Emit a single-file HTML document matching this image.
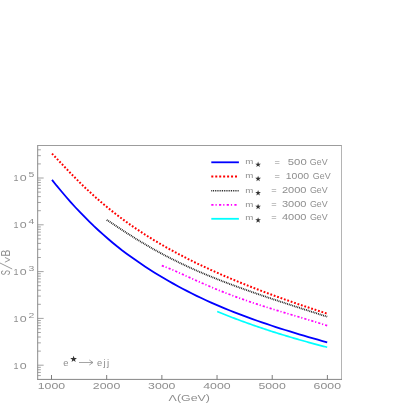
<!DOCTYPE html>
<html><head><meta charset="utf-8"><style>
html,body{margin:0;padding:0;background:#fff;}
svg{display:block;font-family:"Liberation Sans",sans-serif;will-change:transform;}
</style></head><body>
<svg width="409" height="409" viewBox="0 0 409 409">
<rect width="409" height="409" fill="#fff"/>
<path d="M37.15,145.5H342.0" stroke="#9c9c9c" stroke-width="1.1" fill="none"/>
<path d="M37.65,145.5V379.4" stroke="#969696" stroke-width="1.1" fill="none"/>
<path d="M341.5,145.5V379.4" stroke="#b4b4b4" stroke-width="1" fill="none"/>
<path d="M37.15,379.4H342.0" stroke="#868686" stroke-width="1" fill="none"/>
<path d="M51.50,379.4v-4.4 M106.68,379.4v-4.4 M161.86,379.4v-4.4 M217.04,379.4v-4.4 M272.22,379.4v-4.4 M327.40,379.4v-4.4" stroke="#6e6e6e" stroke-width="0.9" fill="none"/>
<path d="M37.65,375.58h3.2 M37.65,372.45h3.2 M37.65,369.74h3.2 M37.65,367.34h3.2 M37.65,365.20h6 M37.65,351.11h3.2 M37.65,342.87h3.2 M37.65,337.02h3.2 M37.65,332.49h3.2 M37.65,328.78h3.2 M37.65,325.65h3.2 M37.65,322.94h3.2 M37.65,320.54h3.2 M37.65,318.40h6 M37.65,304.31h3.2 M37.65,296.07h3.2 M37.65,290.22h3.2 M37.65,285.69h3.2 M37.65,281.98h3.2 M37.65,278.85h3.2 M37.65,276.14h3.2 M37.65,273.74h3.2 M37.65,271.60h6 M37.65,257.51h3.2 M37.65,249.27h3.2 M37.65,243.42h3.2 M37.65,238.89h3.2 M37.65,235.18h3.2 M37.65,232.05h3.2 M37.65,229.34h3.2 M37.65,226.94h3.2 M37.65,224.80h6 M37.65,210.71h3.2 M37.65,202.47h3.2 M37.65,196.62h3.2 M37.65,192.09h3.2 M37.65,188.38h3.2 M37.65,185.25h3.2 M37.65,182.54h3.2 M37.65,180.14h3.2 M37.65,178.00h6 M37.65,163.91h3.2 M37.65,155.67h3.2 M37.65,149.82h3.2" stroke="#8c8c8c" stroke-width="0.8" fill="none"/>
<text y="368.50" font-size="9" fill="#8e8e8e"><tspan x="13.4">1</tspan><tspan x="19.7" textLength="6.9" lengthAdjust="spacingAndGlyphs">0</tspan></text>
<text y="321.70" font-size="9" fill="#8e8e8e"><tspan x="13.4">1</tspan><tspan x="19.7" textLength="6.9" lengthAdjust="spacingAndGlyphs">0</tspan></text>
<text x="28.5" y="317.60" font-size="7.3" textLength="5.8" lengthAdjust="spacingAndGlyphs" fill="#8e8e8e">2</text>
<text y="274.90" font-size="9" fill="#8e8e8e"><tspan x="13.4">1</tspan><tspan x="19.7" textLength="6.9" lengthAdjust="spacingAndGlyphs">0</tspan></text>
<text x="28.5" y="270.80" font-size="7.3" textLength="5.8" lengthAdjust="spacingAndGlyphs" fill="#8e8e8e">3</text>
<text y="228.10" font-size="9" fill="#8e8e8e"><tspan x="13.4">1</tspan><tspan x="19.7" textLength="6.9" lengthAdjust="spacingAndGlyphs">0</tspan></text>
<text x="28.5" y="224.00" font-size="7.3" textLength="5.8" lengthAdjust="spacingAndGlyphs" fill="#8e8e8e">4</text>
<text y="181.30" font-size="9" fill="#8e8e8e"><tspan x="13.4">1</tspan><tspan x="19.7" textLength="6.9" lengthAdjust="spacingAndGlyphs">0</tspan></text>
<text x="28.5" y="177.20" font-size="7.3" textLength="5.8" lengthAdjust="spacingAndGlyphs" fill="#8e8e8e">5</text>
<text x="37.70" y="388.7" font-size="8.8" textLength="27.4" lengthAdjust="spacingAndGlyphs" fill="#8e8e8e">1000</text>
<text x="92.88" y="388.7" font-size="8.8" textLength="27.4" lengthAdjust="spacingAndGlyphs" fill="#8e8e8e">2000</text>
<text x="148.06" y="388.7" font-size="8.8" textLength="27.4" lengthAdjust="spacingAndGlyphs" fill="#8e8e8e">3000</text>
<text x="203.24" y="388.7" font-size="8.8" textLength="27.4" lengthAdjust="spacingAndGlyphs" fill="#8e8e8e">4000</text>
<text x="258.42" y="388.7" font-size="8.8" textLength="27.4" lengthAdjust="spacingAndGlyphs" fill="#8e8e8e">5000</text>
<text x="313.60" y="388.7" font-size="8.8" textLength="27.4" lengthAdjust="spacingAndGlyphs" fill="#8e8e8e">6000</text>
<text x="168.6" y="401.3" font-size="9.8" textLength="41.4" lengthAdjust="spacingAndGlyphs" fill="#8e8e8e">Λ(GeV)</text>
<g transform="translate(9.8,275.3) rotate(-90)"><text x="0" y="0" font-size="12.3" textLength="5.2" lengthAdjust="spacingAndGlyphs" fill="#8e8e8e">S</text></g>
<g transform="translate(9.8,256.5) rotate(-90)"><text x="0" y="0" font-size="12.3" textLength="6.9" lengthAdjust="spacingAndGlyphs" fill="#8e8e8e">B</text></g>
<path d="M12.2,269 L0,263 M4.9,262.2 L9.8,259.8 L4.9,257.4" stroke="#8e8e8e" stroke-width="0.9" fill="none"/>
<path d="M52.00,179.85 L56.66,185.69 L61.33,191.21 L65.99,196.75 L70.66,202.08 L75.32,207.23 L79.99,212.18 L84.65,216.99 L89.32,221.68 L93.98,226.21 L98.64,230.51 L103.31,234.69 L107.97,238.75 L112.64,242.71 L117.30,246.55 L121.97,250.21 L126.63,253.69 L131.29,257.06 L135.96,260.32 L140.62,263.49 L145.29,266.64 L149.95,269.69 L154.62,272.65 L159.28,275.52 L163.95,278.30 L168.61,280.99 L173.27,283.64 L177.94,286.23 L182.60,288.73 L187.27,291.17 L191.93,293.53 L196.60,295.82 L201.26,298.06 L205.93,300.23 L210.59,302.34 L215.25,304.39 L219.92,306.40 L224.58,308.35 L229.25,310.25 L233.91,312.10 L238.58,313.91 L243.24,315.68 L247.91,317.41 L252.57,319.10 L257.23,320.75 L261.90,322.37 L266.56,323.96 L271.23,325.51 L275.89,327.04 L280.56,328.54 L285.22,330.01 L289.88,331.46 L294.55,332.89 L299.21,334.29 L303.88,335.68 L308.54,337.04 L313.21,338.39 L317.87,339.72 L322.54,341.04 L327.20,342.34" stroke="#0000ff" stroke-width="1.8" fill="none"/>
<path d="M52.00,153.62 L56.66,158.49 L61.33,163.44 L65.99,168.37 L70.66,173.24 L75.32,178.01 L79.99,182.67 L84.65,187.21 L89.32,191.60 L93.98,195.86 L98.64,199.99 L103.31,203.98 L107.97,207.85 L112.64,211.60 L117.30,215.22 L121.97,218.73 L126.63,222.14 L131.29,225.44 L135.96,228.63 L140.62,231.74 L145.29,234.75 L149.95,237.68 L154.62,240.53 L159.28,243.30 L163.95,246.01 L168.61,248.64 L173.27,251.21 L177.94,253.72 L182.60,256.17 L187.27,258.57 L191.93,260.91 L196.60,263.20 L201.26,265.44 L205.93,267.63 L210.59,269.79 L215.25,271.90 L219.92,273.97 L224.58,276.00 L229.25,277.99 L233.91,279.95 L238.58,281.88 L243.24,283.77 L247.91,285.64 L252.57,287.47 L257.23,289.28 L261.90,291.06 L266.56,292.81 L271.23,294.54 L275.89,296.24 L280.56,297.92 L285.22,299.58 L289.88,301.22 L294.55,302.83 L299.21,304.43 L303.88,306.01 L308.54,307.57 L313.21,309.11 L317.87,310.64 L322.54,312.14 L327.20,313.64" stroke="#ff0000" stroke-width="2" stroke-dasharray="1.8 1.8" fill="none"/>
<path d="M106.70,219.90 L110.44,222.32 L114.17,224.77 L117.91,227.22 L121.65,229.66 L125.39,232.09 L129.12,234.49 L132.86,236.85 L136.60,239.18 L140.34,241.46 L144.07,243.70 L147.81,245.90 L151.55,248.05 L155.28,250.15 L159.02,252.21 L162.76,254.23 L166.50,256.20 L170.23,258.12 L173.97,260.01 L177.71,261.85 L181.45,263.65 L185.18,265.41 L188.92,267.14 L192.66,268.83 L196.39,270.48 L200.13,272.11 L203.87,273.70 L207.61,275.26 L211.34,276.79 L215.08,278.30 L218.82,279.78 L222.56,281.24 L226.29,282.67 L230.03,284.09 L233.77,285.48 L237.51,286.85 L241.24,288.21 L244.98,289.55 L248.72,290.87 L252.45,292.18 L256.19,293.48 L259.93,294.76 L263.67,296.04 L267.40,297.30 L271.14,298.55 L274.88,299.80 L278.62,301.03 L282.35,302.26 L286.09,303.49 L289.83,304.71 L293.56,305.92 L297.30,307.13 L301.04,308.33 L304.78,309.54 L308.51,310.74 L312.25,311.93 L315.99,313.13 L319.73,314.33 L323.46,315.52 L327.20,316.72" stroke="#1a1a1a" stroke-width="1.8" stroke-dasharray="0.9 0.9" fill="none"/>
<path d="M161.80,265.58 L164.60,266.62 L167.41,267.72 L170.21,268.87 L173.01,270.06 L175.82,271.28 L178.62,272.53 L181.42,273.79 L184.23,275.06 L187.03,276.33 L189.83,277.61 L192.64,278.88 L195.44,280.15 L198.24,281.41 L201.05,282.66 L203.85,283.90 L206.65,285.12 L209.46,286.33 L212.26,287.52 L215.06,288.69 L217.87,289.85 L220.67,290.99 L223.47,292.10 L226.28,293.20 L229.08,294.28 L231.88,295.35 L234.69,296.39 L237.49,297.42 L240.29,298.43 L243.10,299.42 L245.90,300.40 L248.71,301.37 L251.51,302.31 L254.31,303.25 L257.12,304.17 L259.92,305.08 L262.72,305.98 L265.53,306.87 L268.33,307.75 L271.13,308.62 L273.94,309.48 L276.74,310.34 L279.54,311.19 L282.35,312.03 L285.15,312.87 L287.95,313.71 L290.76,314.55 L293.56,315.38 L296.36,316.22 L299.17,317.05 L301.97,317.89 L304.77,318.73 L307.58,319.57 L310.38,320.41 L313.18,321.26 L315.99,322.12 L318.79,322.98 L321.59,323.85 L324.40,324.73 L327.20,325.61" stroke="#ff00ff" stroke-width="1.7" stroke-dasharray="2.2 1.85 1.2 2.0" fill="none"/>
<path d="M217.20,311.44 L219.06,312.21 L220.93,312.98 L222.79,313.74 L224.66,314.49 L226.52,315.24 L228.39,315.98 L230.25,316.71 L232.12,317.43 L233.98,318.15 L235.84,318.86 L237.71,319.57 L239.57,320.26 L241.44,320.95 L243.30,321.64 L245.17,322.32 L247.03,322.99 L248.89,323.66 L250.76,324.32 L252.62,324.97 L254.49,325.62 L256.35,326.27 L258.22,326.91 L260.08,327.54 L261.95,328.17 L263.81,328.79 L265.67,329.40 L267.54,330.02 L269.40,330.62 L271.27,331.22 L273.13,331.82 L275.00,332.41 L276.86,333.00 L278.73,333.58 L280.59,334.16 L282.45,334.73 L284.32,335.30 L286.18,335.87 L288.05,336.43 L289.91,336.98 L291.78,337.53 L293.64,338.08 L295.51,338.63 L297.37,339.16 L299.23,339.70 L301.10,340.23 L302.96,340.76 L304.83,341.28 L306.69,341.80 L308.56,342.32 L310.42,342.83 L312.28,343.34 L314.15,343.84 L316.01,344.34 L317.88,344.84 L319.74,345.33 L321.61,345.82 L323.47,346.31 L325.34,346.79 L327.20,347.27" stroke="#00ffff" stroke-width="1.7" fill="none"/>
<path d="M211.3,162.3H238.9" stroke="#0000ff" stroke-width="1.8" fill="none"/>
<text x="245.2" y="164.10" font-size="8" textLength="8.1" lengthAdjust="spacingAndGlyphs" fill="#8e8e8e">m</text>
<polygon points="258.10,161.60 258.81,163.63 260.95,163.67 259.24,164.97 259.86,167.03 258.10,165.80 256.34,167.03 256.96,164.97 255.25,163.67 257.39,163.63" fill="#333"/>
<text x="274.4" y="164.50" font-size="8.6" textLength="5.4" lengthAdjust="spacingAndGlyphs" fill="#8e8e8e">=</text>
<text x="287.8" y="164.50" font-size="8.6" textLength="18.9" lengthAdjust="spacingAndGlyphs" fill="#8e8e8e">500</text>
<text x="309.8" y="164.50" font-size="8.6" textLength="17.8" lengthAdjust="spacingAndGlyphs" fill="#8e8e8e">GeV</text>
<path d="M211.3,176.5H237.4" stroke="#ff0000" stroke-width="1.8" stroke-dasharray="2 1.95" fill="none"/>
<text x="245.2" y="178.30" font-size="8" textLength="8.1" lengthAdjust="spacingAndGlyphs" fill="#8e8e8e">m</text>
<polygon points="258.10,175.80 258.81,177.83 260.95,177.87 259.24,179.17 259.86,181.23 258.10,180.00 256.34,181.23 256.96,179.17 255.25,177.87 257.39,177.83" fill="#333"/>
<text x="274.4" y="178.70" font-size="8.6" textLength="5.4" lengthAdjust="spacingAndGlyphs" fill="#8e8e8e">=</text>
<text x="285.8" y="178.70" font-size="8.6" textLength="23.2" lengthAdjust="spacingAndGlyphs" fill="#8e8e8e">1000</text>
<text x="312.8" y="178.70" font-size="8.6" textLength="17.8" lengthAdjust="spacingAndGlyphs" fill="#8e8e8e">GeV</text>
<path d="M211.3,190.7H238.9" stroke="#1a1a1a" stroke-width="1.6" stroke-dasharray="0.9 0.9" fill="none"/>
<text x="245.2" y="192.50" font-size="8" textLength="8.1" lengthAdjust="spacingAndGlyphs" fill="#8e8e8e">m</text>
<polygon points="258.10,190.00 258.81,192.03 260.95,192.07 259.24,193.37 259.86,195.43 258.10,194.20 256.34,195.43 256.96,193.37 255.25,192.07 257.39,192.03" fill="#333"/>
<text x="271.3" y="192.90" font-size="8.6" textLength="5.4" lengthAdjust="spacingAndGlyphs" fill="#8e8e8e">=</text>
<text x="281.9" y="192.90" font-size="8.6" textLength="24.6" lengthAdjust="spacingAndGlyphs" fill="#8e8e8e">2000</text>
<text x="309.9" y="192.90" font-size="8.6" textLength="17.8" lengthAdjust="spacingAndGlyphs" fill="#8e8e8e">GeV</text>
<path d="M211.3,204.9H237.4" stroke="#ff00ff" stroke-width="1.7" stroke-dasharray="2.2 2 1.2 2.3" fill="none"/>
<text x="245.2" y="206.70" font-size="8" textLength="8.1" lengthAdjust="spacingAndGlyphs" fill="#8e8e8e">m</text>
<polygon points="258.10,203.70 258.81,205.73 260.95,205.77 259.24,207.07 259.86,209.13 258.10,207.90 256.34,209.13 256.96,207.07 255.25,205.77 257.39,205.73" fill="#333"/>
<text x="271.3" y="207.10" font-size="8.6" textLength="5.4" lengthAdjust="spacingAndGlyphs" fill="#8e8e8e">=</text>
<text x="281.9" y="207.10" font-size="8.6" textLength="24.6" lengthAdjust="spacingAndGlyphs" fill="#8e8e8e">3000</text>
<text x="309.9" y="207.10" font-size="8.6" textLength="17.8" lengthAdjust="spacingAndGlyphs" fill="#8e8e8e">GeV</text>
<path d="M211.3,218.8H238.9" stroke="#00ffff" stroke-width="1.8" fill="none"/>
<text x="245.2" y="220.00" font-size="8" textLength="8.1" lengthAdjust="spacingAndGlyphs" fill="#8e8e8e">m</text>
<polygon points="258.10,217.20 258.81,219.23 260.95,219.27 259.24,220.57 259.86,222.63 258.10,221.40 256.34,222.63 256.96,220.57 255.25,219.27 257.39,219.23" fill="#333"/>
<text x="271.3" y="220.40" font-size="8.6" textLength="5.4" lengthAdjust="spacingAndGlyphs" fill="#8e8e8e">=</text>
<text x="281.9" y="220.40" font-size="8.6" textLength="24.6" lengthAdjust="spacingAndGlyphs" fill="#8e8e8e">4000</text>
<text x="309.9" y="220.40" font-size="8.6" textLength="17.8" lengthAdjust="spacingAndGlyphs" fill="#8e8e8e">GeV</text>
<text x="63.2" y="365.5" font-size="9.8" textLength="5.2" lengthAdjust="spacingAndGlyphs" fill="#8e8e8e">e</text>
<polygon points="73.60,355.70 74.42,358.07 76.93,358.12 74.93,359.63 75.66,362.03 73.60,360.60 71.54,362.03 72.27,359.63 70.27,358.12 72.78,358.07" fill="#333"/>
<path d="M79,362.5H93 M89.3,360L93,362.5L89.3,365" stroke="#8e8e8e" stroke-width="0.8" fill="none"/>
<text x="96.9" y="365.5" font-size="9.8" textLength="5.2" lengthAdjust="spacingAndGlyphs" fill="#8e8e8e">e</text>
<text x="103.6" y="365.5" font-size="9.8" fill="#8e8e8e">j</text>
<text x="107.0" y="365.5" font-size="9.8" fill="#8e8e8e">j</text>
</svg></body></html>
